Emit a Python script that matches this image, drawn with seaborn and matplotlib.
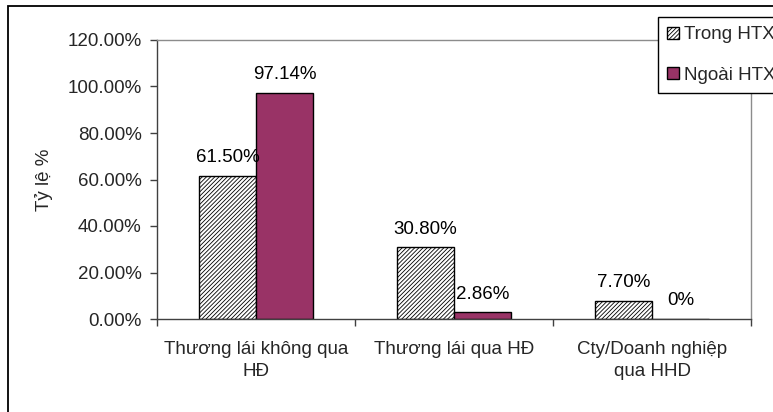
import matplotlib
matplotlib.use("Agg")
import matplotlib.pyplot as plt
import matplotlib.patches as mpatches
from matplotlib.ticker import FuncFormatter, FixedLocator
import seaborn as sns
import pandas as pd

# Sales channels and shares (%) for households inside / outside the cooperative
categories = ["Thương lái không qua\nHĐ", "Thương lái qua HĐ", "Cty/Doanh nghiệp\nqua HHD"]
series_names = ["Trong HTX", "Ngoài HTX"]
trong_htx = [61.50, 30.80, 7.70]
ngoai_htx = [97.14, 2.86, 0.0]
y_ticks = [0, 20, 40, 60, 80, 100, 120]

df = pd.DataFrame({
    "category": categories * 2,
    "group": [series_names[0]] * 3 + [series_names[1]] * 3,
    "value": trong_htx + ngoai_htx,
})

sns.set_theme(style="white")
plt.rcParams["font.family"] = ["Liberation Sans", "DejaVu Sans"]
plt.rcParams["hatch.linewidth"] = 0.6
FS = 13.5

W, H = 773, 412
fig = plt.figure(figsize=(W / 100, H / 100), dpi=100)
fig.patch.set_facecolor("white")
ax = fig.add_axes([157 / W, 1 - 319 / H, 594 / W, 279 / H])

purple = "#993366"
sns.barplot(data=df, x="category", y="value", hue="group", order=categories,
            hue_order=series_names, palette=["white", purple], width=0.575,
            saturation=1, edgecolor="black", linewidth=1.0, legend=False,
            ax=ax, zorder=2)

n = len(categories)
for bar in ax.patches[:n]:
    bar.set_hatch("////////")
    bar.set_facecolor("white")
    bar.set_edgecolor("black")

# Value labels above each bar
for container, vals in zip(ax.containers, [trong_htx, ngoai_htx]):
    labels = [f"{v:.2f}%" if v else "0%" for v in vals]
    ax.bar_label(container, labels=labels, padding=7, fontsize=FS, color="black")

ax.set_xlim(-0.5, n - 0.5)
ax.set_ylim(0, 120)
ax.yaxis.set_major_locator(FixedLocator(y_ticks))
ax.yaxis.set_major_formatter(FuncFormatter(lambda v, p: f"{v:.2f}%"))
ax.tick_params(axis="y", direction="out", length=5, width=1, color="#404040",
               labelsize=FS, pad=6, left=True)

# Category boundaries as ticks, category names as minor ticks
ax.xaxis.set_major_locator(FixedLocator([-0.5 + k for k in range(n + 1)]))
ax.xaxis.set_minor_locator(FixedLocator(list(range(n))))
ax.set_xticklabels([""] * (n + 1))
ax.set_xticklabels(categories, minor=True, linespacing=1.4)
ax.tick_params(axis="x", which="major", direction="out", length=5, width=1,
               color="#404040", bottom=True)
ax.tick_params(axis="x", which="minor", length=0, labelsize=FS, pad=16)
ax.set_xlabel("")

ax.set_ylabel("Tỷ lệ %", fontsize=FS)
ax.yaxis.set_label_coords((53 - 157) / 594, 0.5)

for side in ["left", "bottom"]:
    ax.spines[side].set_color("#404040")
    ax.spines[side].set_linewidth(1.0)
for side in ["top", "right"]:
    ax.spines[side].set_color("#8c8c8c")
    ax.spines[side].set_linewidth(1.0)
    ax.spines[side].set_visible(True)

handles = [
    mpatches.Patch(facecolor="white", edgecolor="black", hatch="////////", linewidth=1.0),
    mpatches.Patch(facecolor=purple, edgecolor="black", linewidth=1.0),
]
leg = fig.legend(handles, series_names, loc="upper left",
                 bbox_to_anchor=(658 / W, 1 - 17 / H), bbox_transform=fig.transFigure,
                 borderaxespad=0, fancybox=False, framealpha=1, edgecolor="black",
                 fontsize=FS, handlelength=0.6, handleheight=0.6, handletextpad=0.3,
                 labelspacing=1.25, borderpad=0.5)
leg.get_frame().set_linewidth(1.0)
leg.set_zorder(10)

# Chart area border
fig.patches.append(mpatches.Rectangle((8 / W, -0.1), 1.2, 1.1 - 6 / H,
                                      transform=fig.transFigure, fill=False,
                                      edgecolor="black", linewidth=1.3, zorder=0))

fig.savefig("out.png", dpi=100)
